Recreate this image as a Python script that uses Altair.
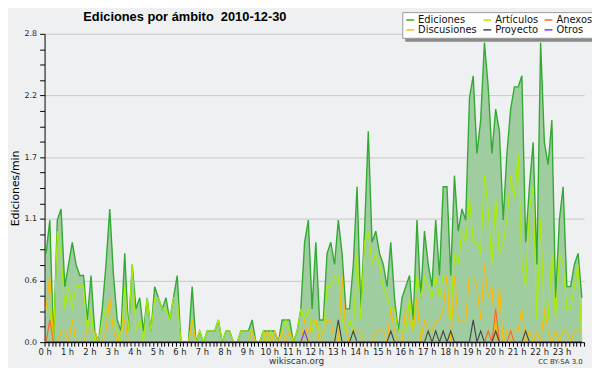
import altair as alt
import pandas as pd

# ---- data (edits per minute, 10-minute bins, 0:00 .. 23:50) ----
ediciones = [
    0.8, 1.1, 0.0, 1.1, 1.2, 0.5, 0.7, 0.9, 0.7, 0.6, 0.6, 0.2,
    0.6, 0.1, 0.0, 0.3, 0.7, 1.2, 0.6, 0.2, 0.1, 0.8, 0.1, 0.7,
    0.3, 0.4, 0.1, 0.4, 0.1, 0.5, 0.4, 0.3, 0.4, 0.2, 0.4, 0.6,
    0.0, 0.0, 0.0, 0.5, 0.0, 0.1, 0.0, 0.1, 0.1, 0.1, 0.2, 0.0,
    0.1, 0.1, 0.0, 0.0, 0.1, 0.1, 0.1, 0.2, 0.0, 0.0, 0.1, 0.1,
    0.1, 0.1, 0.0, 0.2, 0.2, 0.2, 0.0, 0.1, 0.3, 0.9, 1.1, 0.3,
    0.9, 0.2, 0.2, 0.8, 0.9, 0.7, 1.1, 0.8, 0.3, 0.3, 0.7, 1.4,
    0.3, 1.0, 1.9, 0.9, 1.0, 0.8, 0.7, 0.5, 0.9, 0.4, 0.1, 0.4,
    0.5, 0.6, 0.2, 1.1, 0.4, 1.0, 0.7, 0.5, 1.1, 0.6, 1.4, 1.4,
    0.6, 1.5, 1.0, 1.2, 1.1, 2.2, 2.4, 1.7, 2.0, 2.7, 2.3, 1.7,
    2.1, 1.9, 1.1, 1.7, 2.1, 2.3, 2.3, 2.4, 0.9, 1.4, 1.8, 0.7,
    2.7, 1.8, 1.6, 2.0, 0.4, 1.1, 1.4, 0.5, 0.5, 0.7, 0.8, 0.4,
]
articulos = [
    0.3, 0.3, 0.0, 1.0, 0.8, 0.3, 0.5, 0.3, 0.5, 0.5, 0.5, 0.1,
    0.3, 0.0, 0.0, 0.2, 0.3, 0.2, 0.2, 0.1, 0.0, 0.5, 0.1, 0.7,
    0.1, 0.2, 0.0, 0.4, 0.1, 0.4, 0.4, 0.3, 0.3, 0.2, 0.4, 0.4,
    0.0, 0.0, 0.0, 0.2, 0.0, 0.1, 0.0, 0.1, 0.1, 0.1, 0.2, 0.0,
    0.1, 0.1, 0.0, 0.0, 0.1, 0.1, 0.1, 0.1, 0.0, 0.0, 0.1, 0.0,
    0.1, 0.0, 0.0, 0.1, 0.2, 0.1, 0.0, 0.1, 0.3, 0.2, 0.3, 0.1,
    0.2, 0.1, 0.1, 0.5, 0.5, 0.6, 0.6, 0.2, 0.1, 0.2, 0.1, 0.8,
    0.2, 0.9, 1.0, 0.7, 0.8, 0.7, 0.5, 0.4, 0.3, 0.3, 0.1, 0.1,
    0.1, 0.4, 0.1, 0.6, 0.4, 0.6, 0.5, 0.4, 0.6, 0.4, 0.6, 0.6,
    0.2, 0.8, 0.7, 1.0, 0.9, 1.3, 0.9, 0.9, 0.8, 1.5, 1.2, 0.7,
    1.3, 0.8, 0.9, 1.1, 1.5, 1.3, 1.7, 0.7, 0.5, 1.2, 1.4, 0.2,
    1.1, 0.2, 0.2, 0.8, 0.2, 0.8, 0.7, 0.3, 0.3, 0.5, 0.7, 0.0,
]
discusiones = [
    0.3, 0.6, 0.0, 0.0, 0.1, 0.1, 0.0, 0.2, 0.0, 0.0, 0.0, 0.1,
    0.1, 0.1, 0.0, 0.0, 0.1, 0.4, 0.1, 0.0, 0.1, 0.2, 0.0, 0.0,
    0.0, 0.0, 0.0, 0.0, 0.0, 0.0, 0.0, 0.0, 0.0, 0.0, 0.0, 0.0,
    0.0, 0.0, 0.0, 0.2, 0.0, 0.0, 0.0, 0.0, 0.0, 0.0, 0.0, 0.0,
    0.0, 0.0, 0.0, 0.0, 0.0, 0.0, 0.0, 0.1, 0.0, 0.0, 0.0, 0.1,
    0.0, 0.1, 0.0, 0.1, 0.0, 0.1, 0.0, 0.0, 0.0, 0.2, 0.0, 0.2,
    0.2, 0.0, 0.1, 0.2, 0.2, 0.0, 0.0, 0.6, 0.1, 0.0, 0.1, 0.1,
    0.1, 0.0, 0.0, 0.0, 0.1, 0.1, 0.1, 0.0, 0.3, 0.1, 0.0, 0.0,
    0.3, 0.2, 0.1, 0.4, 0.0, 0.2, 0.1, 0.1, 0.2, 0.2, 0.3, 0.6,
    0.0, 0.6, 0.2, 0.2, 0.2, 0.6, 0.6, 0.5, 0.2, 0.7, 0.4, 0.5,
    0.0, 0.5, 0.0, 0.1, 0.0, 0.1, 0.1, 0.3, 0.0, 0.1, 0.0, 0.1,
    0.0, 0.3, 0.1, 0.0, 0.1, 0.0, 0.1, 0.1, 0.0, 0.1, 0.1, 0.1,
]
anexos = [0.0] * 144
for idx, v in [(1, 0.2), (118, 0.1), (120, 0.3), (124, 0.1)]:
    anexos[idx] = v
proyecto = [0.0] * 144
for idx, v in [(78, 0.2), (82, 0.1), (92, 0.1), (102, 0.1), (104, 0.1), (106, 0.1),
               (108, 0.1), (114, 0.2), (116, 0.1), (120, 0.1), (128, 0.1)]:
    proyecto[idx] = v
otros = [0.0] * 144
otros[69] = 0.1

# legend fills column by column: row 1 = Ediciones, Artículos, Anexos
series_names = ["Ediciones", "Discusiones", "Artículos", "Proyecto", "Anexos", "Otros"]
series_colors = ["#33aa33", "#ffbb00", "#aaee00", "#444444", "#ff6622", "#8833ee"]
series_values = {
    "Ediciones": ediciones, "Artículos": articulos, "Anexos": anexos,
    "Discusiones": discusiones, "Proyecto": proyecto, "Otros": otros,
}
draw_order = ["Ediciones", "Artículos", "Discusiones", "Anexos", "Proyecto", "Otros"]

title_text = "Ediciones por ámbito\u00a0 2010-12-30"
footer_text = "wikiscan.org"
license_text = "CC BY-SA 3.0"

x_ticks = [m / 60 for m in range(0, 24 * 60 + 1, 10)]
y_max = 2.7777778
y_ticks = [k * (y_max / 20) for k in range(21)]

rows = []
for name in series_names:
    for i, v in enumerate(series_values[name]):
        rows.append({"serie": name, "hora": (i + 0.4) / 6, "valor": v})
df = pd.DataFrame(rows)

FONT = "DejaVu Sans"
MAJOR = "abs(datum.value / 0.5555556 - round(datum.value / 0.5555556)) < 0.01"

x_enc = alt.X(
    "hora:Q",
    scale=alt.Scale(domain=[0, 24], nice=False, zero=False),
    axis=alt.Axis(
        values=x_ticks,
        labelExpr="abs(datum.value - round(datum.value)) < 0.01 && round(datum.value) < 24 ? round(datum.value) + ' h' : ''",
        labelOverlap=False, labelFlush=False, grid=False, tickSize=4, labelPadding=1,
        labelFont=FONT, labelFontSize=8.5, labelColor="#222",
        domainColor="black", tickColor="black", title=None, zindex=1,
    ),
)
y_enc = alt.Y(
    "valor:Q",
    scale=alt.Scale(domain=[0, y_max], nice=False),
    axis=alt.Axis(
        values=y_ticks,
        labelExpr=MAJOR + " ? format(datum.value, '.1f') : ''",
        labelOverlap=False, labelFlush=False, grid=True,
        gridOpacity={"condition": {"test": MAJOR, "value": 1}, "value": 0},
        gridColor="#c8c8c8", tickSize=5, labelPadding=3,
        labelFont=FONT, labelFontSize=8, labelColor="#222",
        domainColor="black", tickColor="black",
        title="Ediciones/min", titleFont=FONT, titleFontSize=11,
        titleFontWeight="normal", titleColor="black", titlePadding=4,
    ),
)

legend = alt.Legend(
    orient="none", legendX=362, legendY=-22, columns=3, title=None,
    fillColor="white", strokeColor="#999", padding=3,
    labelFont=FONT, labelFontSize=10, labelColor="#111",
    symbolType="stroke", symbolStrokeWidth=1.5, symbolSize=64,
    columnPadding=3, rowPadding=0, labelOffset=3,
)
color_scale = alt.Scale(domain=series_names, range=series_colors)

# legend shadow
shadow = alt.Chart(pd.DataFrame({"k": [0]})).mark_rect(color="#8a8a8a").encode(
    x=alt.value(365), x2=alt.value(556), y=alt.value(-19), y2=alt.value(8))

area = alt.Chart(df).transform_filter(alt.datum.serie == "Ediciones").mark_area(
    color="#9fcd9f", opacity=1
).encode(x=x_enc, y=y_enc)

layers = [area]
for name in draw_order:
    layers.append(
        alt.Chart(df).transform_filter(alt.datum.serie == name).mark_line(
            strokeWidth=1.4 if name == "Ediciones" else 1.1
        ).encode(
            x=x_enc, y=y_enc,
            color=alt.Color("serie:N", scale=color_scale, legend=legend),
        )
    )
layers.append(shadow)

title = alt.Chart(pd.DataFrame({"t": [title_text]})).mark_text(
    font="Liberation Sans", fontSize=13, fontWeight="bold", color="black",
    align="center", baseline="alphabetic",
).encode(text="t:N", x=alt.value(142), y=alt.value(-13))
foot = alt.Chart(pd.DataFrame({"t": [footer_text]})).mark_text(
    font=FONT, fontSize=9, color="#333").encode(
    text="t:N", x=alt.value(255), y=alt.value(331))
cc = alt.Chart(pd.DataFrame({"t": [license_text]})).mark_text(
    font=FONT, fontSize=7, color="#333").encode(
    text="t:N", x=alt.value(522), y=alt.value(332))
layers += [title, foot, cc]

chart = alt.layer(*layers).properties(
    width=546, height=312,
    autosize=alt.AutoSizeParams(type="none"),
    padding={"left": 37, "top": 24, "right": 8, "bottom": 24},
).configure(background="#eff0f1").configure_view(stroke=None)

chart.save("out.html", embed_options={"renderer": "svg", "actions": False})
